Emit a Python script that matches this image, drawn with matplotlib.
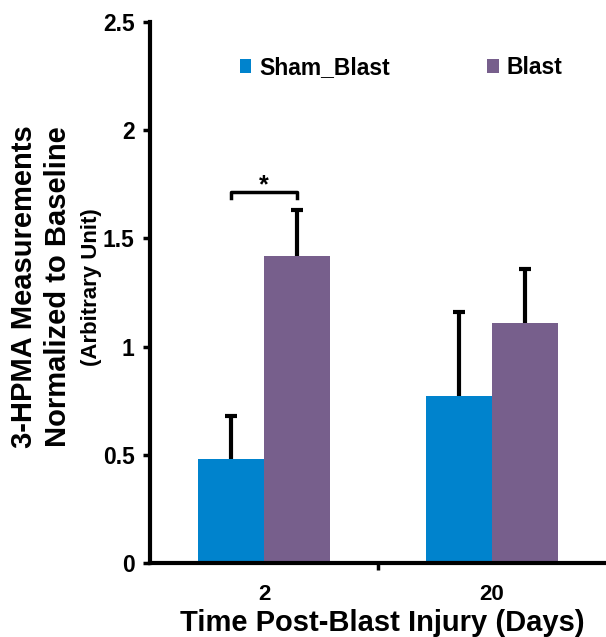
import matplotlib.pyplot as plt
import numpy as np

plt.rcParams['font.family'] = ['Liberation Sans', 'DejaVu Sans']
plt.rcParams['font.weight'] = 'bold'
plt.rcParams['axes.labelweight'] = 'bold'

days = ['2', '20']
sham_blast = [0.48, 0.77]
sham_err = [0.20, 0.39]
blast = [1.42, 1.11]
blast_err = [0.21, 0.25]

sham_color = '#0083CD'
blast_color = '#775F8C'

fig = plt.figure(figsize=(6.06, 6.37), dpi=100)
ax = fig.add_axes([150 / 606, 74 / 637, 456 / 606, 541 / 637])

x = np.arange(len(days))
w = 0.29
err_kw = dict(ecolor='black', elinewidth=3, capsize=4, capthick=3)
b1 = ax.bar(x - w / 2, sham_blast, w, color=sham_color, label='Sham_Blast',
            yerr=[np.zeros(len(days)), sham_err], error_kw=err_kw)
b2 = ax.bar(x + w / 2, blast, w, color=blast_color, label='Blast',
            yerr=[np.zeros(len(days)), blast_err], error_kw=err_kw)
# only the upper caps are drawn
for b in (b1, b2):
    b.errorbar.lines[1][0].set_visible(False)

# significance bracket for day 2
y_br = 1.714
ax.plot([x[0] - w / 2, x[0] - w / 2, x[0] + w / 2, x[0] + w / 2],
        [y_br - 0.025, y_br, y_br, y_br - 0.025], color='black', lw=2.5)
ax.text(x[0], 1.745, '*', ha='center', va='center', fontsize=18)

ax.set_xlim(-0.5, 1.5)
ax.set_ylim(0, 2.5)
ax.set_yticks([0, 0.5, 1, 1.5, 2, 2.5])
ax.set_yticklabels(['0', '0.5', '1', '1.5', '2', '2.5'])
ax.set_xticks(x)
ax.set_xticklabels(days)
ax.set_xticks([0.5], minor=True)
ax.tick_params(axis='x', which='major', length=0, pad=15, labelsize=16)
ax.tick_params(axis='x', which='minor', length=5, width=2.5, direction='out')
ax.tick_params(axis='y', length=5, width=2.5, direction='out', labelsize=16.5, pad=6)

for side in ['top', 'right']:
    ax.spines[side].set_visible(False)
for side in ['left', 'bottom']:
    ax.spines[side].set_linewidth(3)

fig.text(382 / 606, 1 - 623 / 637, 'Time Post-Blast Injury (Days)',
         ha='center', va='center', fontsize=21)
fig.text(24 / 606, 1 - 287 / 637, '3-HPMA Measurements', rotation=90,
         ha='center', va='center', fontsize=21)
fig.text(58 / 606, 1 - 287 / 637, 'Normalized to Baseline', rotation=90,
         ha='center', va='center', fontsize=21)
fig.text(92 / 606, 1 - 287 / 637, '(Arbitrary Unit)', rotation=90,
         ha='center', va='center', fontsize=16)

ax.legend(loc='upper center', bbox_to_anchor=(0.551, 0.975), ncol=2, frameon=False,
          fontsize=16.5, handlelength=0.5, handleheight=0.5, handletextpad=0.35,
          columnspacing=4.25)

fig.savefig('out.png', dpi=100)
